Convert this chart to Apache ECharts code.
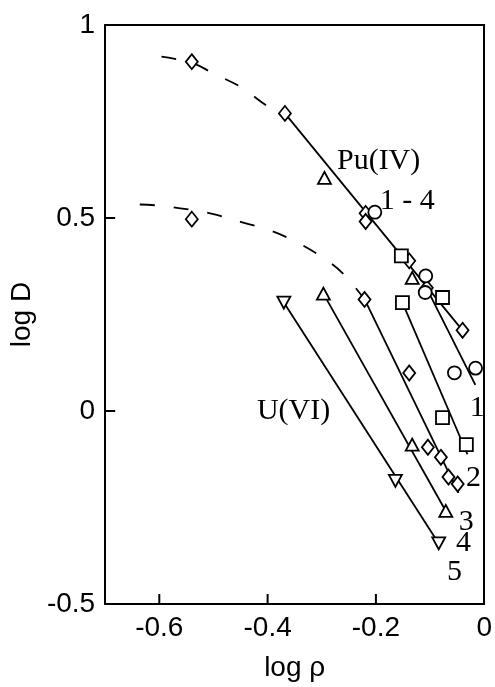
<!DOCTYPE html>
<html>
<head>
<meta charset="utf-8">
<script src="https://cdn.jsdelivr.net/npm/echarts@6/dist/echarts.min.js"></script>
<style>
html,body{margin:0;padding:0;background:#fff;}
#c{width:495px;height:687px;}
</style>
</head>
<body>
<div id="c"></div>
<script>
// ---- axis ticks ----
const xTickValues = [-0.6, -0.4, -0.2];
const xLabelValues = [-0.6, -0.4, -0.2, 0];
const yLabelValues = [-0.5, 0, 0.5, 1];
const yTickValues = [0, 0.5];

// ---- Pu(IV) points ----
const puDiamonds = [[-0.540,0.905],[-0.368,0.771],[-0.219,0.512],[-0.219,0.491],[-0.1385,0.389],[-0.106,0.319],[-0.040,0.209]];
const puTriangles = [[-0.295,0.604],[-0.133,0.345]];
const puCircles = [[-0.202,0.515],[-0.108,0.350]];
const puSquares = [[-0.153,0.402],[-0.077,0.294]];

// ---- U(VI) points (media 1-5) ----
const uCircles1 = [[-0.109,0.307],[-0.055,0.099],[-0.016,0.111]];
const uSquares2 = [[-0.151,0.281],[-0.077,-0.017],[-0.033,-0.087]];
const uDiamonds3 = [[-0.540,0.497],[-0.221,0.289],[-0.1385,0.0985],[-0.104,-0.094],[-0.080,-0.120],[-0.066,-0.171],[-0.049,-0.189]];
const uTriangles4 = [[-0.297,0.304],[-0.133,-0.087],[-0.071,-0.259]];
const uTrianglesDown5 = [[-0.370,0.281],[-0.164,-0.181],[-0.084,-0.343]];

// ---- fitted lines ----
const puSolid = [[-0.368,0.771],[-0.040,0.209]];
const puDashed = [[-0.596,0.918],[-0.540,0.902],[-0.4995,0.874],[-0.448,0.838],[-0.399,0.789],[-0.368,0.771]];
const uDashed = [[-0.636,0.535],[-0.600,0.532],[-0.545,0.522],[-0.500,0.510],[-0.450,0.490],[-0.400,0.470],[-0.350,0.440],[-0.300,0.399],[-0.260,0.355],[-0.221,0.289]];
const uLine1 = [[-0.104,0.312],[-0.0164,0.0676]];
const uLine2 = [[-0.151,0.281],[-0.031,-0.112]];
const uLine3 = [[-0.2206,0.2885],[-0.0474,-0.212]];
const uLine4 = [[-0.297,0.304],[-0.071,-0.259]];
const uLine5 = [[-0.370,0.281],[-0.084,-0.343]];

// ---- annotation texts (data coords) ----
const annTexts = ['Pu(IV)', '1 - 4', 'U(VI)', '1', '2', '3', '4', '5'];
const annX = [-0.195, -0.142, -0.352, -0.0128, -0.020, -0.033, -0.0383, -0.0547];
const annY = [0.648, 0.543, 0.000, 0.0085, -0.174, -0.289, -0.341, -0.418];

const X_MIN = -0.7, X_MAX = 0, Y_MIN = -0.5, Y_MAX = 1;

const chart = echarts.init(document.getElementById('c'), null, {renderer:'canvas'});

function lineSeries(data, dashed, smooth) {
  return {
    type: 'line', data: data, symbol: 'none', smooth: smooth ? 0.4 : false,
    lineStyle: {color: '#000', width: 1.8, type: dashed ? [15, 19] : 'solid'},
    z: 2, silent: true, animation: false
  };
}
function markerSeries(data, symbol, size, rotate) {
  return {
    type: 'scatter', data: data, symbol: symbol, symbolSize: size,
    symbolRotate: rotate || 0,
    itemStyle: {color: '#fff', borderColor: '#000', borderWidth: 1.8, opacity: 1},
    z: 5, silent: true, animation: false
  };
}

const option = {
  backgroundColor: '#fff',
  animation: false,
  grid: {left: 105, right: 6, top: 25, bottom: 78, show: false},
  xAxis: [{
    type: 'value', min: X_MIN, max: X_MAX, interval: 0.1,
    name: 'log ρ', nameLocation: 'middle', nameGap: 50,
    nameTextStyle: {fontFamily: 'Liberation Sans', fontSize: 28, color: '#000'},
    axisLine: {show: true, onZero: false, lineStyle: {color: '#000', width: 2}},
    axisTick: {show: false},
    axisLabel: {customValues: xLabelValues, fontFamily: 'Liberation Sans', fontSize: 28, color: '#000', margin: 10,
      formatter: v => (Math.abs(v) < 1e-9 ? '0' : String(Math.round(v*10)/10))},
    splitLine: {show: false}
  }, {
    type: 'value', position: 'top', min: X_MIN, max: X_MAX,
    axisLine: {show: true, onZero: false, lineStyle: {color: '#000', width: 2}},
    axisTick: {show: false}, axisLabel: {show: false}, splitLine: {show: false}
  }],
  yAxis: [{
    type: 'value', min: Y_MIN, max: Y_MAX, interval: 0.5,
    name: 'log D', nameLocation: 'middle', nameGap: 64, nameRotate: 90,
    nameTextStyle: {fontFamily: 'Liberation Sans', fontSize: 28, color: '#000'},
    axisLine: {show: true, onZero: false, lineStyle: {color: '#000', width: 2}},
    axisTick: {show: false},
    axisLabel: {customValues: yLabelValues, fontFamily: 'Liberation Sans', fontSize: 28, color: '#000', margin: 10,
      formatter: v => (Math.abs(v) < 1e-9 ? '0' : String(v))},
    splitLine: {show: false}
  }, {
    type: 'value', position: 'right', min: Y_MIN, max: Y_MAX,
    axisLine: {show: true, onZero: false, lineStyle: {color: '#000', width: 2}},
    axisTick: {show: false}, axisLabel: {show: false}, splitLine: {show: false}
  }],
  series: [
    lineSeries(puDashed, true, true),
    lineSeries(uDashed, true, true),
    lineSeries(puSolid, false, false),
    lineSeries(uLine1, false, false),
    lineSeries(uLine2, false, false),
    lineSeries(uLine3, false, false),
    lineSeries(uLine4, false, false),
    lineSeries(uLine5, false, false),
    markerSeries(puDiamonds, 'diamond', [12, 15]),
    markerSeries(puTriangles, 'triangle', [13, 12]),
    markerSeries(puCircles, 'circle', 13),
    markerSeries(puSquares, 'rect', 13),
    markerSeries(uCircles1, 'circle', 13),
    markerSeries(uSquares2, 'rect', 13),
    markerSeries(uDiamonds3, 'diamond', [12, 15]),
    markerSeries(uTriangles4, 'triangle', [13, 12]),
    markerSeries(uTrianglesDown5, 'triangle', [13, 12], 180)
  ]
};
chart.setOption(option);

const graphics = annTexts.map((t, i) => {
  const p = chart.convertToPixel({xAxisIndex: 0, yAxisIndex: 0}, [annX[i], annY[i]]);
  return {
    type: 'text', x: p[0], y: p[1], z: 10,
    style: {text: t, font: '30px "Liberation Serif"', fill: '#000', align: 'center', verticalAlign: 'middle'}
  };
});
// inward tick marks, positioned through the axis scales
xTickValues.forEach(v => {
  const p = chart.convertToPixel({xAxisIndex: 0, yAxisIndex: 0}, [v, Y_MIN]);
  graphics.push({type: 'rect', z: 10, shape: {x: p[0] - 1, y: p[1] - 10, width: 2, height: 10}, style: {fill: '#000'}});
});
yTickValues.forEach(v => {
  const p = chart.convertToPixel({xAxisIndex: 0, yAxisIndex: 0}, [X_MIN, v]);
  graphics.push({type: 'rect', z: 10, shape: {x: p[0], y: p[1] - 1, width: 10, height: 2}, style: {fill: '#000'}});
});
chart.setOption({graphic: graphics});
</script>
</body>
</html>
